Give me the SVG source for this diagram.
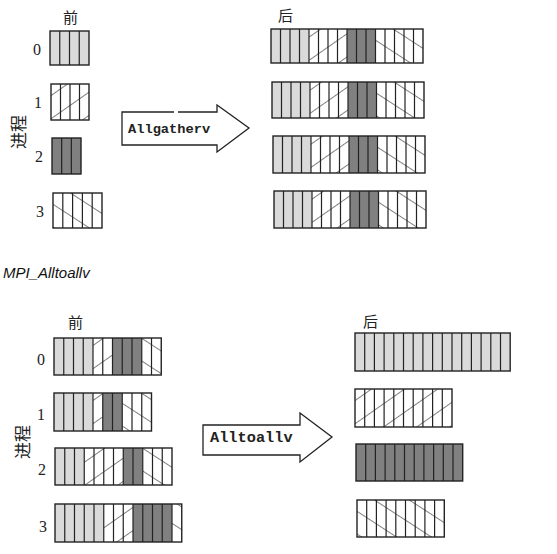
<svg xmlns="http://www.w3.org/2000/svg" width="557" height="554" viewBox="0 0 557 554">
<defs>
<pattern id="fwd" patternUnits="userSpaceOnUse" width="20" height="19" patternTransform="rotate(-35)">
<rect width="20" height="19" fill="#fff"/>
<path d="M-1,9.5 H21" stroke="#555" stroke-width="0.75"/>
</pattern>
<pattern id="bwd" patternUnits="userSpaceOnUse" width="20" height="19" patternTransform="rotate(33)">
<rect width="20" height="19" fill="#fff"/>
<path d="M-1,9.5 H21" stroke="#555" stroke-width="0.75"/>
</pattern>
<style>
.lt{fill:#dadada}
.dk{fill:#808080}
.fw{fill:url(#fwd)}
.bw{fill:url(#bwd)}
.dv{stroke:#222;stroke-width:1.2;fill:none}
.ol{fill:none;stroke:#222;stroke-width:1.4}
.num{font-family:"Liberation Serif",serif;font-size:16px;fill:#222;text-anchor:middle}
.cjk{font-family:"Noto Sans CJK SC",sans-serif;font-size:15px;fill:#222}
.side{font-family:"Noto Sans CJK SC",sans-serif;font-size:17px;fill:#222;text-anchor:middle;dominant-baseline:central}
.op{font-family:"Liberation Mono",monospace;font-weight:bold;fill:#222}
.arr{fill:#fff;stroke:none}
.arl{fill:none;stroke:#222;stroke-width:1.3;stroke-linejoin:miter}
</style>
</defs>
<rect width="557" height="554" fill="#fff"/>

<!-- labels -->
<g id="labels-top">
<text class="cjk" x="63" y="23">前</text>
<text class="cjk" x="278" y="21">后</text>
<text class="side" transform="translate(17,132) rotate(-90)">进程</text>
<text class="num" x="37" y="55">0</text>
<text class="num" x="38" y="108">1</text>
<text class="num" x="39" y="162">2</text>
<text class="num" x="40" y="217">3</text>
</g>
<text x="3" y="278" font-family="Liberation Sans, sans-serif" font-style="italic" font-size="15" fill="#111">MPI_Alltoallv</text>
<g id="labels-bottom">
<text class="cjk" x="68" y="328">前</text>
<text class="cjk" x="363" y="327">后</text>
<text class="side" transform="translate(21,442) rotate(-90)">进程</text>
<text class="num" x="41" y="365">0</text>
<text class="num" x="41" y="420">1</text>
<text class="num" x="42" y="475">2</text>
<text class="num" x="43" y="532">3</text>
</g>

<!-- Allgatherv: before -->
<g id="ag-before-0" transform="translate(50,31)">
<rect class="lt" width="39" height="34"/>
<path class="dv" d="M9.75,0V34M19.5,0V34M29.25,0V34"/>
<rect class="ol" width="39" height="34"/>
</g>
<g id="ag-before-1" transform="translate(51,84)">
<rect class="fw" width="38" height="36"/>
<path class="dv" d="M9.5,0V36M19,0V36M28.5,0V36"/>
<rect class="ol" width="38" height="36"/>
</g>
<g id="ag-before-2" transform="translate(52,138)">
<rect class="dk" width="29" height="36"/>
<path class="dv" d="M9.67,0V36M19.33,0V36"/>
<rect class="ol" width="29" height="36"/>
</g>
<g id="ag-before-3" transform="translate(53,193)">
<rect class="bw" width="49" height="35"/>
<path class="dv" d="M9.8,0V35M19.6,0V35M29.4,0V35M39.2,0V35"/>
<rect class="ol" width="49" height="35"/>
</g>

<!-- Allgatherv: after -->
<g id="ag-after-0" transform="translate(271,29)">
<rect class="lt" x="0" width="38" height="34"/>
<rect class="fw" x="38" width="38" height="34"/>
<rect class="dk" x="76" width="28.5" height="34"/>
<rect class="bw" x="104.5" width="47.5" height="34"/>
<path class="dv" d="M9.5,0V34M19,0V34M28.5,0V34M38,0V34M47.5,0V34M57,0V34M66.5,0V34M76,0V34M85.5,0V34M95,0V34M104.5,0V34M114,0V34M123.5,0V34M133,0V34M142.5,0V34"/>
<rect class="ol" width="152" height="34"/>
</g>
<g id="ag-after-1" transform="translate(272,82)">
<rect class="lt" x="0" width="38" height="36"/>
<rect class="fw" x="38" width="38" height="36"/>
<rect class="dk" x="76" width="28.5" height="36"/>
<rect class="bw" x="104.5" width="47.5" height="36"/>
<path class="dv" d="M9.5,0V36M19,0V36M28.5,0V36M38,0V36M47.5,0V36M57,0V36M66.5,0V36M76,0V36M85.5,0V36M95,0V36M104.5,0V36M114,0V36M123.5,0V36M133,0V36M142.5,0V36"/>
<rect class="ol" width="152" height="36"/>
</g>
<g id="ag-after-2" transform="translate(273,136)">
<rect class="lt" x="0" width="38" height="37"/>
<rect class="fw" x="38" width="38" height="37"/>
<rect class="dk" x="76" width="28.5" height="37"/>
<rect class="bw" x="104.5" width="47.5" height="37"/>
<path class="dv" d="M9.5,0V37M19,0V37M28.5,0V37M38,0V37M47.5,0V37M57,0V37M66.5,0V37M76,0V37M85.5,0V37M95,0V37M104.5,0V37M114,0V37M123.5,0V37M133,0V37M142.5,0V37"/>
<rect class="ol" width="152" height="37"/>
</g>
<g id="ag-after-3" transform="translate(274,191)">
<rect class="lt" x="0" width="38" height="37"/>
<rect class="fw" x="38" width="38" height="37"/>
<rect class="dk" x="76" width="28.5" height="37"/>
<rect class="bw" x="104.5" width="47.5" height="37"/>
<path class="dv" d="M9.5,0V37M19,0V37M28.5,0V37M38,0V37M47.5,0V37M57,0V37M66.5,0V37M76,0V37M85.5,0V37M95,0V37M104.5,0V37M114,0V37M123.5,0V37M133,0V37M142.5,0V37"/>
<rect class="ol" width="152" height="37"/>
</g>

<!-- Alltoallv: before -->
<g id="aa-before-0" transform="translate(54,338)">
<rect class="lt" x="0" width="39" height="37"/>
<rect class="fw" x="39" width="19.5" height="37"/>
<rect class="dk" x="58.5" width="29.25" height="37"/>
<rect class="bw" x="87.75" width="19.5" height="37"/>
<path class="dv" d="M9.75,0V37M19.5,0V37M29.25,0V37M39,0V37M48.75,0V37M58.5,0V37M68.25,0V37M78,0V37M87.75,0V37M97.5,0V37"/>
<rect class="ol" width="107.25" height="37"/>
</g>
<g id="aa-before-1" transform="translate(54,393)">
<rect class="lt" x="0" width="39" height="38"/>
<rect class="fw" x="39" width="9.75" height="38"/>
<rect class="dk" x="48.75" width="19.5" height="38"/>
<rect class="bw" x="68.25" width="29.25" height="38"/>
<path class="dv" d="M9.75,0V38M19.5,0V38M29.25,0V38M39,0V38M48.75,0V38M58.5,0V38M68.25,0V38M78,0V38M87.75,0V38"/>
<rect class="ol" width="97.5" height="38"/>
</g>
<g id="aa-before-2" transform="translate(55,448)">
<rect class="lt" x="0" width="29.25" height="37"/>
<rect class="fw" x="29.25" width="39" height="37"/>
<rect class="dk" x="68.25" width="19.5" height="37"/>
<rect class="bw" x="87.75" width="29.25" height="37"/>
<path class="dv" d="M9.75,0V37M19.5,0V37M29.25,0V37M39,0V37M48.75,0V37M58.5,0V37M68.25,0V37M78,0V37M87.75,0V37M97.5,0V37M107.25,0V37"/>
<rect class="ol" width="117" height="37"/>
</g>
<g id="aa-before-3" transform="translate(55,504)">
<rect class="lt" x="0" width="48.75" height="38"/>
<rect class="fw" x="48.75" width="29.25" height="38"/>
<rect class="dk" x="78" width="39" height="38"/>
<rect class="bw" x="117" width="9.75" height="38"/>
<path class="dv" d="M9.75,0V38M19.5,0V38M29.25,0V38M39,0V38M48.75,0V38M58.5,0V38M68.25,0V38M78,0V38M87.75,0V38M97.5,0V38M107.25,0V38M117,0V38"/>
<rect class="ol" width="126.75" height="38"/>
</g>

<!-- Alltoallv: after -->
<g id="aa-after-0" transform="translate(355,333)">
<rect class="lt" width="155.2" height="38"/>
<path class="dv" d="M9.7,0V38M19.4,0V38M29.1,0V38M38.8,0V38M48.5,0V38M58.2,0V38M67.9,0V38M77.6,0V38M87.3,0V38M97,0V38M106.7,0V38M116.4,0V38M126.1,0V38M135.8,0V38M145.5,0V38"/>
<rect class="ol" width="155.2" height="38"/>
</g>
<g id="aa-after-1" transform="translate(355,389)">
<rect class="fw" width="97" height="38"/>
<path class="dv" d="M9.7,0V38M19.4,0V38M29.1,0V38M38.8,0V38M48.5,0V38M58.2,0V38M67.9,0V38M77.6,0V38M87.3,0V38"/>
<rect class="ol" width="97" height="38"/>
</g>
<g id="aa-after-2" transform="translate(356,444)">
<rect class="dk" width="106.7" height="37"/>
<path class="dv" d="M9.7,0V37M19.4,0V37M29.1,0V37M38.8,0V37M48.5,0V37M58.2,0V37M67.9,0V37M77.6,0V37M87.3,0V37M97,0V37"/>
<rect class="ol" width="106.7" height="37"/>
</g>
<g id="aa-after-3" transform="translate(357,500)">
<rect class="bw" width="87.3" height="37"/>
<path class="dv" d="M9.7,0V37M19.4,0V37M29.1,0V37M38.8,0V37M48.5,0V37M58.2,0V37M67.9,0V37M77.6,0V37"/>
<rect class="ol" width="87.3" height="37"/>
</g>

<!-- connectors: block arrows -->
<g id="connectors">
<g id="arrow-allgatherv">
<path class="arr" d="M122,112H217V105L249,128L217,152V145H122Z"/>
<path class="arl" d="M174,112H122V145H217V152L249,128L217,105V112H178"/>
<text class="op" x="128" y="133" font-size="13.7">Allgatherv</text>
</g>
<g id="arrow-alltoallv">
<path class="arr" d="M203,425H300V413L332,437L300,462V455H203Z"/>
<path class="arl" d="M203,425H300V413L332,437L300,462V455H203Z"/>
<text class="op" x="210" y="442" font-size="15.3">Alltoallv</text>
</g>
</g>
</svg>
